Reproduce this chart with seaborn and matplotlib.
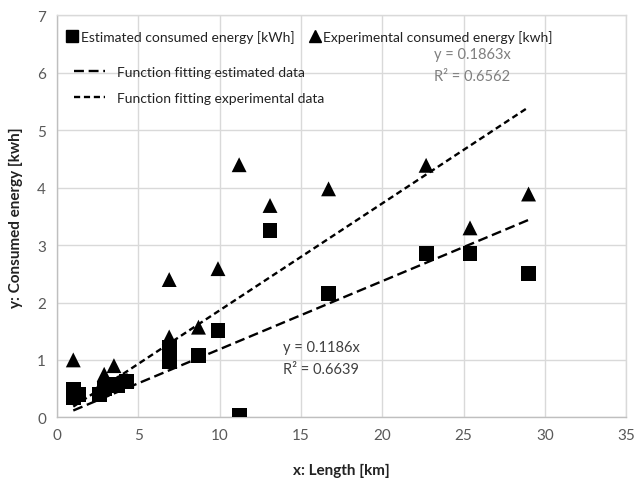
import matplotlib
matplotlib.use("Agg")
import matplotlib.pyplot as plt
import seaborn as sns
import numpy as np
import pandas as pd
from matplotlib.lines import Line2D

sns.set_theme(style="white")
plt.rcParams['font.family'] = ['Lato', 'DejaVu Sans']

length_km = [1.0, 1.0, 1.3, 2.6, 2.9, 3.5, 3.7, 4.3, 6.9, 6.9, 8.7, 9.9, 11.2, 13.1, 16.7, 22.7, 25.4, 29.0]
estimated = [0.35, 0.48, 0.40, 0.40, 0.50, 0.58, 0.55, 0.62, 0.98, 1.22, 1.07, 1.51, 0.03, 3.26, 2.15, 2.86, 2.86, 2.50]
experimental = [1.00, 0.40, 0.45, 0.50, 0.75, 0.90, 0.60, 0.65, 1.40, 2.40, 1.57, 2.59, 4.40, 3.69, 3.98, 4.39, 3.30, 3.89]
slope_est = 0.1186
slope_exp = 0.1863
r2_est = 0.6639
r2_exp = 0.6562

df = pd.DataFrame({"x": length_km, "est": estimated, "exp": experimental})

fig = plt.figure(figsize=(6.35, 4.85), dpi=100)
ax = fig.add_axes([0.0898, 0.1375, 0.8962, 0.8285])

xfit = np.array([min(length_km), max(length_km)])
fit = pd.DataFrame({"x": xfit, "est": slope_est * xfit, "exp": slope_exp * xfit})

sns.lineplot(data=fit, x="x", y="exp", ax=ax, color="black", lw=1.7, zorder=3)
ax.lines[-1].set_dashes((2.6, 1.6))
sns.lineplot(data=fit, x="x", y="est", ax=ax, color="black", lw=1.7, zorder=3)
ax.lines[-1].set_dashes((4.2, 2.0))

sns.scatterplot(data=df, x="x", y="exp", ax=ax, marker="^", color="black",
                s=115, edgecolor="none", zorder=4)
sns.scatterplot(data=df, x="x", y="est", ax=ax, marker="s", color="black",
                s=115, edgecolor="none", zorder=5)

ax.set_xlim(0, 35)
ax.set_ylim(0, 7)
ax.set_xticks(range(0, 36, 5))
ax.set_yticks(range(0, 8))
ax.grid(True, color="#d9d9d9", lw=1.0)
ax.set_axisbelow(True)
for s in ax.spines.values():
    s.set_color("#d9d9d9")
    s.set_linewidth(1.0)
ax.spines['bottom'].set_color("#bfbfbf")
ax.spines['left'].set_color("#bfbfbf")
ax.tick_params(axis="both", colors="#595959", labelsize=11, length=0, pad=8)

ax.set_xlabel("x: Length [km]", fontsize=11, fontweight="bold", color="#222222", labelpad=15)
ax.set_ylabel("y: Consumed energy [kwh]", fontsize=11, fontweight="bold", color="#222222", labelpad=10)

ax.text(23.2, 6.33, f"y = {slope_exp}x", color="#7f7f7f", fontsize=10.5, va="center")
ax.text(23.2, 5.95, f"R² = {r2_exp}", color="#7f7f7f", fontsize=10.5, va="center")
ax.text(13.9, 1.22, f"y = {slope_est}x", color="#404040", fontsize=10.5, va="center")
ax.text(13.9, 0.84, f"R² = {r2_est}", color="#404040", fontsize=10.5, va="center")

h1 = [Line2D([], [], marker="s", color="black", ls="none", markersize=9),
      Line2D([], [], marker="^", color="black", ls="none", markersize=9)]
leg1 = ax.legend(h1, ["Estimated consumed energy [kWh]", "Experimental consumed energy [kwh]"],
                 ncol=2, loc="upper left", bbox_to_anchor=(0.0, 0.985), frameon=False,
                 fontsize=10, handletextpad=0.1, columnspacing=1.0, handlelength=1.0,
                 borderaxespad=0.2, labelcolor="#222222")
ax.add_artist(leg1)
h2 = [Line2D([], [], color="black", lw=1.7, dashes=(4.2, 2.0)),
      Line2D([], [], color="black", lw=1.7, dashes=(2.6, 1.6))]
ax.legend(h2, ["Function fitting estimated data", "Function fitting experimental data"],
          loc="upper left", bbox_to_anchor=(0.008, 0.905), frameon=False, fontsize=10,
          handlelength=2.2, handletextpad=0.9, labelspacing=1.0, labelcolor="#222222")

fig.savefig("out.png", dpi=100)
